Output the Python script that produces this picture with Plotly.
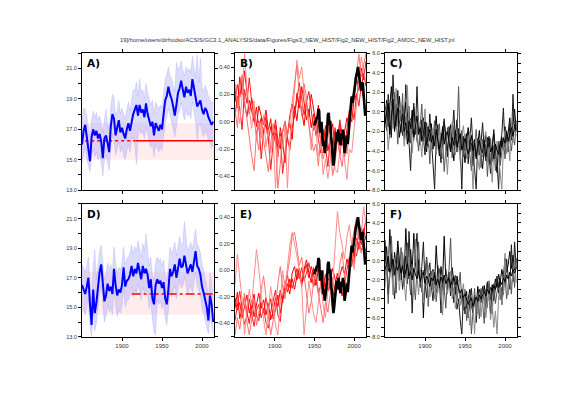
import plotly.graph_objects as go

# ---------------- data ----------------
YEARS2 = list(range(1850, 2015, 2))      # 83 values
YEARS3 = list(range(1850, 2016, 3))      # 56 values
OBS_YEARS = list(range(1950, 2015))      # 65 values

A_BLUE = [16.0, 16.9, 17.3, 16.4, 15.6, 14.9, 16.5, 17.0, 16.6, 16.9,
          16.4, 16.7, 16.2, 15.1, 16.4, 16.6, 16.1, 15.5, 17.2, 18.0,
          17.7, 16.6, 17.1, 17.6, 16.8, 17.1, 16.7, 16.4, 17.0, 17.4,
          16.9, 17.6, 18.0, 18.3, 18.6, 17.9, 18.6, 18.1, 18.3, 17.8,
          18.7, 18.0, 17.6, 17.2, 17.5, 16.6, 17.4, 17.2, 16.9, 17.3,
          17.0, 18.0, 18.9, 19.2, 19.8, 19.3, 19.0, 18.5, 17.9, 18.6,
          19.4, 19.7, 20.2, 19.6, 19.1, 19.8, 19.4, 19.6, 19.2, 20.3,
          19.6, 19.0, 18.5, 18.7, 18.9, 18.3, 18.0, 18.4, 18.2, 17.8,
          17.6, 17.3, 17.5]
A_UPPER = [17.6, 18.4, 18.3, 17.9, 17.0, 16.5, 17.6, 18.2, 17.8, 18.1,
           17.6, 17.9, 17.4, 16.8, 17.6, 18.3, 17.4, 17.0, 18.5, 19.3,
           19.1, 17.9, 18.2, 18.9, 18.0, 18.4, 18.0, 17.7, 18.3, 18.8,
           18.2, 19.0, 19.6, 19.5, 20.1, 19.2, 20.3, 19.4, 19.6, 19.0,
           20.0, 19.4, 18.9, 18.6, 18.9, 18.0, 18.8, 18.6, 18.3, 18.6,
           18.4, 19.4, 20.3, 20.6, 21.1, 20.5, 20.4, 19.9, 19.5, 21.4,
           20.9, 21.1, 21.5, 20.9, 20.5, 21.1, 20.8, 21.0, 20.7, 21.8,
           21.0, 20.4, 21.9, 20.1, 21.7, 19.8, 19.5, 19.9, 19.6, 19.2,
           19.0, 18.7, 18.9]
A_LOWER = [14.8, 15.5, 15.9, 15.0, 14.6, 14.2, 15.2, 15.7, 15.2, 15.5,
           15.0, 15.3, 14.8, 13.9, 15.0, 15.3, 14.8, 14.3, 15.8, 16.6,
           16.3, 15.3, 15.7, 16.2, 15.5, 15.8, 15.3, 15.0, 15.6, 16.0,
           15.5, 16.2, 16.5, 16.0, 14.7, 16.5, 17.1, 16.7, 16.9, 16.4,
           17.2, 16.6, 16.2, 15.8, 16.1, 15.2, 16.0, 15.8, 15.5, 15.9,
           15.6, 16.6, 17.4, 17.8, 18.4, 17.9, 17.5, 17.0, 16.5, 17.2,
           17.9, 18.2, 18.8, 18.1, 17.6, 18.3, 17.9, 18.1, 17.7, 18.8,
           18.1, 17.5, 16.3, 17.2, 17.4, 16.8, 16.5, 16.9, 16.7, 16.3,
           16.1, 15.8, 16.0]

D_BLUE = [16.5, 16.2, 15.9, 16.4, 17.0, 15.2, 13.8, 16.2, 14.6, 15.3,
          16.5, 17.4, 17.9, 16.3, 15.4, 15.8, 16.6, 16.1, 16.4, 15.9,
          17.6, 16.5, 15.8, 16.2, 16.0, 16.5, 17.7, 16.4, 16.8, 16.9,
          17.2, 17.8, 17.1, 17.6, 17.3, 18.0, 17.5, 16.9, 17.8, 17.3,
          17.6, 17.2, 16.3, 16.9, 15.6, 15.2, 16.5, 16.9, 16.6, 16.8,
          16.3, 16.7, 15.6, 15.2, 16.2, 17.6, 17.1, 17.4, 17.9, 17.0,
          17.6, 18.3, 17.7, 17.8, 18.5, 18.0, 17.3, 17.6, 17.9, 17.4,
          18.3, 18.8, 17.8, 17.6, 17.2, 16.4, 16.0, 15.4, 15.0, 14.1,
          15.8, 15.2, 14.0]
D_UPPER = [17.9, 17.6, 17.4, 17.8, 18.4, 16.7, 15.5, 17.8, 18.9, 16.9,
           18.0, 18.8, 19.2, 17.8, 16.9, 17.3, 18.0, 17.6, 17.9, 17.4,
           19.1, 18.0, 17.3, 17.7, 17.5, 18.0, 19.1, 17.9, 18.3, 18.4,
           18.7, 19.2, 18.6, 19.1, 18.8, 19.5, 19.0, 18.4, 19.3, 18.8,
           20.0, 18.7, 17.8, 18.4, 17.2, 16.8, 18.0, 18.4, 18.1, 18.3,
           17.8, 18.2, 17.2, 16.8, 17.7, 19.1, 18.6, 18.9, 19.4, 18.5,
           19.1, 19.8, 19.2, 19.3, 20.8, 19.5, 18.8, 19.1, 19.4, 18.9,
           19.8, 20.3, 19.3, 19.1, 18.7, 17.9, 17.5, 16.9, 16.5, 15.6,
           17.3, 16.7, 15.5]
D_LOWER = [15.1, 14.8, 14.5, 15.0, 15.6, 13.8, 13.0, 14.8, 13.4, 13.9,
           15.1, 16.0, 16.5, 14.9, 14.0, 14.4, 15.2, 14.7, 15.0, 14.5,
           16.2, 15.1, 14.4, 14.8, 14.6, 15.1, 16.3, 15.0, 15.4, 15.5,
           15.8, 16.4, 15.7, 16.2, 15.9, 16.6, 16.1, 15.5, 16.4, 15.9,
           16.2, 15.8, 14.9, 15.5, 14.2, 13.3, 13.1, 15.5, 15.2, 15.4,
           14.9, 15.3, 14.2, 13.8, 14.8, 16.2, 15.7, 16.0, 16.5, 15.6,
           16.2, 16.9, 16.3, 16.4, 17.1, 16.6, 15.9, 16.2, 16.5, 16.0,
           16.9, 17.4, 16.4, 16.2, 15.8, 15.0, 14.6, 14.0, 13.6, 13.2,
           14.4, 13.8, 13.2]

# reference (pink band low/high and red line)
A_BAND = [15.0, 17.4]
D_BAND = [14.5, 17.4]
A_REF_DOT_YEARS = [1854, 1917]
A_REF_SOLID_YEARS = [1917, 2014]
A_REF = [16.25, 16.25]
D_REF_YEARS = [1912, 2014]
D_REF = [15.9, 15.9]

OBS = [-1.4, -0.9, -1.1, -0.5, -0.7, 0.3, 0.1, -2.1, -1.5, -1.0,
       -2.4, -3.5, -3.0, -4.2, -3.6, -2.8, -1.9, -0.3, -0.1, -1.3,
       -0.9, -2.5, -3.2, -4.6, -5.5, -4.8, -3.8, -2.6, -2.1, -3.0,
       -1.8, -2.4, -2.9, -3.4, -2.2, -2.7, -1.8, -2.5, -4.2, -3.6,
       -3.1, -2.4, -3.3, -1.7, -1.2, -0.2, 0.6, 1.6, 0.9, 1.4,
       1.9, 2.6, 3.4, 3.9, 4.3, 4.6, 3.8, 3.2, 2.6, 2.2,
       3.0, 2.9, 1.8, 0.9, -0.4]

B_RED = [
    [1.0, 2.8, 1.5, 3.2, 0.8, -0.5, 1.2, 0.2, -1.0, 0.5,
     -1.8, -0.6, -2.2, -1.2, -3.0, -1.5, -2.6, -0.8, -2.9, -3.8,
     -2.0, -1.0, -2.5, -0.4, 0.8, -0.6, 1.9, 0.4, 2.6, 1.0,
     -0.8, 0.3, -1.6, -0.2, -2.4, -1.0, -3.1, -1.8, -2.7, -0.9,
     -2.2, -3.6, -1.9, -2.8, -1.2, -3.4, -2.0, -0.6, -1.5, 0.8,
     2.0, 1.2, 3.1, 2.4, 4.0, 2.6],
    [2.5, 0.4, 3.6, 1.8, 4.2, 2.0, -0.2, 1.4, 0.3, -1.5,
     0.6, -0.4, -1.3, 0.2, -1.9, -0.7, -3.4, -2.1, -4.6, -1.6,
     -3.0, -5.2, -2.3, -1.1, -2.8, 0.6, -0.9, 1.6, 0.2, -1.4,
     0.9, -0.5, 1.8, 0.4, -1.2, 0.7, -1.9, -3.3, -1.4, -4.0,
     -2.6, -1.2, -3.9, -2.2, -4.4, -2.5, -3.6, -1.8, 0.2, -1.0,
     1.5, 3.6, 2.2, 4.5, 3.3, 5.2],
    [-0.5, 1.6, 0.3, -1.8, 2.3, 0.9, 3.5, 1.0, -0.6, -2.4,
     -0.9, -4.8, -2.0, -0.5, -2.8, -5.9, -3.2, -1.4, -3.7, -2.2,
     -6.3, -4.1, -2.6, -3.9, -1.7, -0.4, 1.2, 3.0, 1.4, -0.3,
     1.0, 2.1, 0.2, -1.9, -0.6, -2.8, -4.2, -2.0, -3.5, -5.6,
     -2.9, -4.3, -1.6, -3.1, -0.8, -2.3, -4.6, -2.9, -1.1, 0.4,
     -0.8, 1.9, 0.6, 2.7, 1.3, 0.0],
    [3.0, 0.9, -1.2, 1.7, 6.0, 2.4, 0.5, -1.7, 1.1, -3.0,
     -1.1, -2.7, -0.3, -3.6, -1.8, -4.2, -2.4, -7.8, -4.0, -2.5,
     -3.8, -1.6, -7.8, -3.0, -0.8, 2.0, 5.3, 3.4, 4.6, 2.1,
     0.2, -1.3, -3.9, -0.9, -2.0, -4.5, -3.0, -6.4, -4.8, -6.8,
     -5.0, -3.2, -5.9, -6.2, -4.1, -2.4, -5.0, -6.9, -3.8, -4.2,
     -1.7, 0.9, 2.8, 5.6, 4.2, 3.0],
    [0.2, -1.6, 2.1, 3.8, 1.2, -0.9, -2.7, -4.5, -6.0, -2.2,
     -3.9, -1.0, -2.9, -4.4, -6.1, -3.3, -1.2, -2.7, -7.8, -5.4,
     -2.1, -0.9, -2.4, -1.0, 1.1, 3.0, 4.8, 1.9, -0.4, 2.9,
     1.5, -1.4, -2.6, -4.0, -3.3, -5.5, -2.6, -4.8, -3.9, -1.5,
     -3.8, -6.5, -5.2, -2.7, -4.4, -5.6, -3.1, -4.3, -2.0, 0.0,
     2.5, 4.2, 5.9, 3.6, 4.8, 6.0],
]
E_RED = [
    [-3.9, -5.2, -4.4, -6.0, -4.8, -3.6, -5.5, -4.2, -5.9, -4.6,
     -3.4, -5.0, -4.1, -5.7, -4.5, -6.2, -5.3, -3.9, -4.8, -3.1,
     -4.4, -2.6, -1.5, -2.8, -1.9, -3.0, -1.6, -0.8, -2.3, -1.2,
     -0.4, -1.8, -0.6, -1.5, -2.6, -0.9, -1.9, -2.8, -1.4, -3.2,
     -2.1, -0.8, -1.9, -3.0, -1.6, -0.6, -1.4, 0.2, -0.8, 1.1,
     0.4, 1.9, 2.6, 1.7, 3.4, 2.2],
    [-5.0, -3.3, -6.1, -4.9, -3.8, -5.4, -6.6, -4.7, -3.5, -5.8,
     -6.3, -4.4, -5.5, -3.9, -5.0, -4.0, -6.1, -5.2, -3.6, -5.5,
     -4.0, -3.2, -2.4, -3.5, -1.3, -0.6, -2.0, -1.1, -2.7, -0.9,
     0.1, -1.2, -2.3, -0.7, -1.6, -3.4, -2.6, -1.0, -3.6, -2.2,
     -3.1, -4.0, -2.5, -1.3, -2.8, -3.7, -2.0, -2.9, -1.1, 0.6,
     -0.3, 2.4, 1.2, 3.5, 2.8, 4.5],
    [-6.3, -4.6, -3.2, -5.1, -6.7, -5.8, -4.0, -5.6, -6.9, -5.2,
     -4.6, -6.0, -5.0, -6.5, -7.1, -5.4, -4.2, -3.1, -5.7, -6.4,
     -3.7, -2.1, -3.3, -1.9, -2.9, -2.0, -0.8, -1.9, -0.7, -2.1,
     -1.3, -0.2, -1.4, -2.7, -1.9, -0.5, -2.2, -3.6, -2.9, -1.8,
     -2.4, -3.3, -4.1, -2.2, -3.4, -1.9, -2.6, -0.9, 0.4, -0.6,
     1.3, 0.5, 2.0, 1.1, 1.8, 0.9],
    [-2.5, 0.7, -1.8, -4.0, -7.8, -5.6, -3.0, -4.7, -1.9, 1.2,
     -0.8, -3.5, -6.2, -7.8, -5.1, -2.7, -4.6, -6.8, -7.8, -4.5,
     -1.0, -2.9, -0.6, 1.6, 3.0, 1.9, 0.5, -1.0, -2.7, -7.8,
     -5.0, -2.1, -3.9, -5.6, -6.5, -4.2, -2.5, -4.6, -6.0, -3.1,
     -1.4, -2.6, 0.9, 5.2, 3.0, 1.4, 0.2, 2.5, 3.8, 1.6,
     -0.9, 1.8, 3.9, 2.7, 5.7, 3.9],
    [-7.8, -6.0, -7.2, -5.3, -3.4, -6.4, -7.8, -6.2, -4.0, -6.8,
     -5.5, -3.0, -1.6, -3.8, -6.0, -7.8, -6.3, -4.7, -2.4, -0.6,
     -2.8, -4.0, -1.3, 0.2, 2.6, 3.0, 1.4, -0.5, 0.4, -1.6,
     -3.6, -5.5, -4.3, -2.2, -0.9, -3.4, -5.0, -6.5, -4.3, -5.4,
     -3.5, -1.7, -4.0, -2.7, -0.4, 0.9, -1.8, -2.6, -0.3, 1.8,
     3.2, 4.6, 2.4, 0.8, 2.0, 0.3],
]
RED_COLORS = ["#ff0000", "#ff0000", "#ff1a1a", "#ff8c8c", "#ff7070"]

C_MEMBERS = [
    [-0.8, 1.2, -1.5, 0.4, 2.6, -0.6, -2.0, 0.8, -1.1, 1.6,
     -0.3, -2.4, -0.9, 1.0, -1.8, -3.1, -0.7, -2.2, 0.5, -1.6,
     -2.9, -1.0, -3.4, -1.9, -0.6, -2.8, -4.1, -1.5, -3.0, -1.2,
     -3.8, -2.1, -0.4, -2.9, -4.5, -2.2, -3.6, -1.0, -2.7, -4.0,
     -2.5, -1.3, -3.3, -5.0, -2.6, -0.8, -3.1, -4.4, -2.0, -3.7,
     -5.2, -3.0, -1.6, -4.1, -3.2, -5.5, -2.8, -4.6, -3.4, -1.9,
     -4.3, -5.8, -3.6, -2.4, -4.9, -3.1, -5.4, -3.8, -2.2, -4.5,
     -6.2, -3.3, -4.7, -2.6, -3.9, -1.5, -3.0, -2.1, -0.6, -2.7,
     -1.4, 0.3, -1.8],
    [0.5, -1.9, 1.8, -0.2, -2.6, 3.8, 0.1, -1.4, 2.2, -0.9,
     -2.1, 0.7, -1.3, 2.8, -0.5, -2.7, -6.0, -1.2, 0.9, -2.3,
     2.6, -1.7, -3.2, -0.8, -2.5, -4.4, -1.1, -3.6, -0.2, -2.8,
     -4.9, -7.9, -2.4, -1.3, -3.5, -5.2, -2.0, -0.7, -3.0, -4.6,
     -1.5, -3.9, -2.3, 0.2, -2.9, -4.1, -1.7, -3.4, -7.9, -2.5,
     -4.0, -2.2, -5.3, -3.0, -0.6, -3.8, -5.6, -7.9, -2.7, -4.4,
     -3.2, -1.1, -3.9, -5.0, -2.6, -4.7, -6.3, -3.5, -1.8, -4.0,
     -5.1, -7.9, -3.4, -2.3, 0.4, -3.6, -2.5, -4.1, -1.2, -2.9,
     1.8, -2.0, -0.9],
    [-1.6, 0.9, -0.4, -2.7, 1.1, -1.2, 2.0, -0.7, -3.3, 0.2,
     -1.0, 1.9, -2.8, -0.4, -1.9, 0.6, -3.2, -1.5, -2.9, -0.8,
     -2.2, -4.0, -1.4, 0.8, -2.6, -1.3, -3.7, -2.0, -5.3, -1.9,
     -2.8, -0.9, -3.9, -2.4, -1.2, -4.3, -2.9, -6.1, -3.3, -1.6,
     -3.6, -2.0, -4.7, -1.4, -3.0, -2.1, 2.6, -3.5, -1.9, -4.6,
     -2.3, -3.9, -2.7, -4.4, -6.0, -2.9, -3.7, -1.8, -4.5, -3.0,
     -5.7, -2.8, -4.2, -3.3, -6.6, -4.0, -2.7, -5.1, -3.4, -6.0,
     -4.6, -3.0, -5.5, -4.1, -2.6, -4.8, -1.9, -3.6, -2.4, -4.0,
     -2.3, -3.4, -1.2],
    [0.3, -0.8, -3.9, -1.3, 0.6, -1.7, -0.2, 2.4, -1.5, -0.6,
     0.8, -1.2, -3.5, -2.0, 2.7, -1.6, -0.8, -4.2, -2.1, -1.0,
     -3.1, -0.9, -2.4, -4.6, -1.8, 0.3, -2.9, -3.3, -1.6, -4.0,
     -1.7, -2.6, -4.4, -3.0, -1.9, -2.6, -4.8, -2.2, -3.9, -6.4,
     -3.4, -2.5, -1.1, -3.8, -4.4, -2.7, -3.2, -5.0, -2.6, -1.4,
     -3.5, -4.8, -3.1, -2.0, -4.1, -7.9, -3.9, -2.5, -4.8, -5.9,
     -2.9, -4.6, -3.0, -2.0, -5.2, -3.6, -4.4, -7.2, -3.9, -5.3,
     -3.0, -4.5, -6.0, -7.9, -3.6, -1.9, -4.3, -2.8, -5.0, -1.0,
     -3.1, -1.6, -2.4],
    [-1.2, -0.1, 0.9, -2.3, -0.7, 1.3, -1.8, -0.5, 0.4, -2.6,
     -1.4, -0.2, -2.0, -1.1, -3.3, -0.9, -1.7, 0.2, -2.6, -1.5,
     -0.4, -2.3, -1.6, -3.0, -2.2, -1.0, -3.4, -2.5, -1.8, -3.1,
     -2.4, -3.5, -1.8, -2.9, -3.8, -3.1, -1.5, -3.3, -2.4, -2.0,
     -3.0, -4.1, -2.6, -3.4, -1.9, -3.6, -2.8, -2.2, -3.9, -3.2,
     -2.7, -3.6, -4.3, -3.5, -2.4, -4.0, -3.2, -4.8, -3.5, -2.9,
     -3.8, -4.2, -2.9, -4.6, -3.7, -2.5, -4.1, -3.6, -4.8, -3.3,
     -3.9, -4.4, -3.0, -3.6, -2.7, -3.2, -2.0, -3.0, -2.3, -1.6,
     -2.5, -1.3, -2.0],
]
F_MEMBERS = [
    [-0.3, 1.5, -1.1, 3.3, 0.2, -1.6, 0.9, -0.8, 2.1, -0.5,
     -2.0, 0.6, -1.4, 3.4, -0.4, -1.9, 1.2, -1.1, 2.9, -0.2,
     -1.8, 0.1, -2.6, -1.0, -6.0, -1.7, 0.4, -2.2, -1.3, -3.0,
     -0.9, -2.4, 1.6, -1.5, -2.8, -0.6, -2.1, 2.6, -1.9, -3.1,
     -1.2, -2.9, -0.7, -2.2, -3.5, -1.6, -2.6, -4.0, -3.1, -4.6,
     -3.3, -5.0, -4.1, -3.0, -4.7, -5.5, -3.8, -4.9, -2.7, -4.2,
     -3.1, -4.5, -2.6, -3.8, -2.2, -3.4, -4.1, -2.5, -3.3, -1.9,
     -2.8, -1.4, -2.3, -0.9, -1.8, 0.3, -1.2, -0.4, 1.0, -0.8,
     0.6, -1.0, 0.2],
    [2.2, -0.6, -3.5, -1.0, 0.8, -2.2, -4.0, -0.3, 1.4, -1.9,
     -0.7, -3.0, -1.5, 0.5, -2.4, 3.1, -0.8, -5.5, -1.3, 0.8,
     2.9, -1.1, -2.8, -0.6, 2.0, -2.3, -3.9, -1.4, -0.2, -2.7,
     -4.2, -1.2, -3.3, -0.5, -2.0, -5.5, -1.8, -3.6, -0.9, -2.5,
     -1.7, -3.7, -2.2, -4.4, -2.7, -5.1, -4.0, -6.2, -7.7, -3.8,
     -5.6, -3.2, -6.0, -4.4, -2.9, -5.3, -3.6, -6.5, -4.1, -3.0,
     -4.4, -2.7, -3.8, -5.1, -2.3, -3.6, -5.6, -2.8, -4.2, -3.1,
     -1.6, -3.4, -2.0, -4.6, -1.1, -2.4, 0.2, -1.7, -3.0, 1.7,
     -2.2, 2.0, -0.8],
    [-1.5, 0.4, -4.5, -0.9, 2.6, -1.3, -0.2, -3.4, 0.6, -2.1,
     1.4, -0.5, -2.7, -1.0, 1.9, -1.6, -3.6, -0.4, -1.9, -4.1,
     -0.8, 2.0, -1.7, -3.3, -1.0, -2.2, 0.3, -4.8, -2.0, -1.1,
     -3.0, -1.8, -4.3, -2.5, -0.8, -3.6, -1.4, -2.8, -5.0, -2.0,
     -1.0, 2.4, -2.6, -3.7, -1.5, -4.2, -2.8, -1.2, -4.4, -5.2,
     -3.0, -6.3, -4.7, -3.4, -7.7, -4.8, -2.9, -5.7, -4.3, -6.1,
     -2.9, -4.3, -6.6, -3.0, -4.9, -2.1, -3.8, -5.6, -2.4, -4.5,
     -3.3, -2.2, -4.1, -2.8, -3.6, -1.5, -4.0, -2.6, -1.2, -3.5,
     -0.6, -2.8, 0.3],
    [-2.8, -0.1, 1.0, -1.8, -0.5, -3.6, 0.3, -1.5, -0.3, -3.1,
     -1.1, 0.9, -2.3, -4.2, -1.2, 0.4, -2.5, -1.0, -3.4, 2.3,
     -1.6, -3.6, -0.9, -2.0, -4.4, -1.5, -2.6, -0.5, -3.8, -2.3,
     -1.1, -4.0, -2.6, -3.4, -1.3, -2.9, -5.7, -2.4, -1.6, -3.5,
     -2.3, -1.1, -4.0, -2.8, -5.0, -3.3, -2.0, -4.7, -3.5, -2.4,
     -4.8, -3.7, -5.2, -6.8, -3.6, -4.5, -7.7, -4.0, -5.6, -3.3,
     -5.9, -4.0, -3.2, -6.0, -4.4, -3.5, -6.2, -4.6, -7.0, -5.3,
     -7.7, -3.8, -2.7, -4.6, -3.2, 0.8, -2.4, -3.6, -1.4, -2.6,
     -1.5, 0.1, -2.3],
    [-0.9, -0.4, 0.5, -1.2, -0.7, 0.2, -1.5, -0.6, -1.0, -0.2,
     -1.3, -0.5, -1.8, -0.9, -0.3, -1.6, -1.1, -2.0, -0.8, -1.4,
     -1.9, -1.0, -2.2, -1.5, -1.2, -2.4, -1.6, -2.0, -2.7, -1.8,
     -2.1, -1.4, -2.5, -1.9, -2.6, -1.7, -2.3, -1.5, -2.4, -2.0,
     -1.8, -2.6, -2.0, -1.6, -2.5, -2.2, -2.9, -3.4, -3.0, -3.8,
     -3.5, -4.0, -4.6, -4.2, -3.9, -4.8, -4.4, -3.8, -4.3, -3.6,
     -4.0, -3.5, -3.2, -3.7, -3.0, -3.4, -2.8, -3.2, -2.6, -3.0,
     -2.4, -2.8, -2.1, -2.5, -1.8, -2.2, -1.5, -1.9, -1.2, -1.6,
     -0.9, -1.3, -0.7],
]
GRAY_COLORS = ["#000000", "#1a1a1a", "#555555", "#8a8a8a", "#000000"]

X_TICKS = [1900, 1950, 2000]
TITLE = "19]/home/users/dirhodso/ACSIS/GC3.1_ANALYSIS/data/Figures/Figs3_NEW_HIST/Fig2_NEW_HIST/Fig2_AMOC_NEW_HIST.jnl"

# ---------------- figure ----------------
W, H = 545, 381      # page body has an 8 px margin
OFF = 8

def fx(p):
    return (p - OFF) / W

def fy(p):
    return 1 - (p - OFF) / H

fig = go.Figure()

def sc(x, y, xa, ya, **kw):
    fig.add_trace(go.Scatter(x=x, y=y, xaxis=xa, yaxis=ya, mode="lines",
                             showlegend=False, hoverinfo="skip", **kw))

# Panel A / D : temperature-like series
for xa, ya, up, lo, blue in [("x", "y", A_UPPER, A_LOWER, A_BLUE),
                              ("x4", "y5", D_UPPER, D_LOWER, D_BLUE)]:
    sc(YEARS2, lo, xa, ya, line=dict(width=0.6, color="rgba(150,150,255,0.45)"))
    sc(YEARS2, up, xa, ya, line=dict(width=0.6, color="rgba(150,150,255,0.45)"),
       fill="tonexty", fillcolor="rgba(150,150,255,0.33)")
    if xa == "x":
        sc(A_REF_DOT_YEARS, A_REF, xa, ya, line=dict(color="#ff0000", width=1.5, dash="dot"))
        sc(A_REF_SOLID_YEARS, A_REF, xa, ya, line=dict(color="#ff0000", width=1.6))
    else:
        sc(D_REF_YEARS, D_REF, xa, ya, line=dict(color="#ff0000", width=1.5, dash="dashdot"))
    sc(YEARS2, blue, xa, ya, line=dict(color="#0000ff", width=2))

# Panel B / E
for xa, yl, yr, members in [("x2", "y2", "y3", B_RED), ("x5", "y6", "y7", E_RED)]:
    sc([None], [None], xa, yl)
    for vals, col in zip(members, RED_COLORS):
        sc(YEARS3, vals, xa, yr, line=dict(color=col, width=1))
    sc(OBS_YEARS, OBS, xa, yr, line=dict(color="#000000", width=2.6))

# Panel C / F
for xa, ya, members in [("x3", "y4", C_MEMBERS), ("x6", "y8", F_MEMBERS)]:
    for vals, col in zip(members, GRAY_COLORS):
        sc(YEARS2, vals, xa, ya, line=dict(color=col, width=1))

# ---------------- layout ----------------
XD = [[fx(82), fx(214)], [fx(235), fx(366)], [fx(385), fx(517)]]
YD_TOP = [fy(190), fy(51)]
YD_BOT = [fy(339), fy(204)]
TICKFONT = dict(family="Liberation Sans", size=5.5, color="#333333")
LINE = dict(showline=True, linecolor="black", linewidth=1, showgrid=False,
            zeroline=False, ticks="outside", ticklen=3, tickcolor="black",
            tickwidth=1, tickfont=TICKFONT)

def xax(dom, anchor, labels):
    d = dict(LINE, domain=dom, anchor=anchor, range=[1850, 2015],
             tickvals=X_TICKS, mirror="ticks", showticklabels=labels)
    d["tickfont"] = dict(family="Liberation Sans", size=6, color="#333333")
    return d

def temp_y(dom, anchor):
    vals = list(range(13, 23))
    txt = [f"{v:.1f}" if v % 2 == 1 else "" for v in vals]
    return dict(LINE, domain=dom, anchor=anchor, range=[13, 22],
                tickvals=vals, ticktext=txt, mirror="ticks")

def frac_y(dom, anchor):
    vals = [round(-0.5 + 0.1 * i, 1) for i in range(11)]
    txt = [f"{v:.2f}" if abs(round(v * 10)) % 2 == 0 else "" for v in vals]
    return dict(LINE, domain=dom, anchor=anchor, range=[-0.5, 0.5],
                tickvals=vals, ticktext=txt, side="left")

def amoc_right(over, anchor):
    return dict(LINE, overlaying=over, anchor=anchor, side="right",
                range=[-8, 6], tickvals=list(range(-8, 7)), showticklabels=False)

def amoc_y(dom, anchor):
    vals = list(range(-8, 7))
    txt = [f"{v:.1f}" if v % 2 == 0 else "" for v in vals]
    return dict(LINE, domain=dom, anchor=anchor, range=[-8, 6],
                tickvals=vals, ticktext=txt, mirror="ticks")

fig.update_layout(
    width=W, height=H, autosize=False,
    margin=dict(l=0, r=0, t=0, b=0),
    paper_bgcolor="white", plot_bgcolor="rgba(0,0,0,0)",
    showlegend=False,
    xaxis=xax(XD[0], "y", False),
    xaxis2=xax(XD[1], "y2", False),
    xaxis3=xax(XD[2], "y4", False),
    xaxis4=xax(XD[0], "y5", True),
    xaxis5=xax(XD[1], "y6", True),
    xaxis6=xax(XD[2], "y8", True),
    yaxis=temp_y(YD_TOP, "x"),
    yaxis2=frac_y(YD_TOP, "x2"),
    yaxis3=amoc_right("y2", "x2"),
    yaxis4=amoc_y(YD_TOP, "x3"),
    yaxis5=temp_y(YD_BOT, "x4"),
    yaxis6=frac_y(YD_BOT, "x5"),
    yaxis7=amoc_right("y6", "x5"),
    yaxis8=amoc_y(YD_BOT, "x6"),
)

# pink reference bands
for yref, band, xref in [("y", A_BAND, "x"), ("y5", D_BAND, "x4")]:
    fig.add_shape(type="rect", xref=f"{xref} domain", yref=yref, x0=0, x1=1,
                  y0=band[0], y1=band[1], fillcolor="rgba(255,0,0,0.07)",
                  line=dict(width=0), layer="below")

# panel labels
for lab, xr, yr in [("A)", "x", "y"), ("B)", "x2", "y2"), ("C)", "x3", "y4"),
                    ("D)", "x4", "y5"), ("E)", "x5", "y6"), ("F)", "x6", "y8")]:
    fig.add_annotation(text=f"<b>{lab}</b>", xref=f"{xr} domain", yref=f"{yr} domain",
                       x=0.025, y=0.985, xanchor="left", yanchor="top", showarrow=False,
                       font=dict(family="DejaVu Sans", size=10.5, color="black"))

fig.add_annotation(text=TITLE, xref="paper", yref="paper", x=fx(287), y=fy(37),
                   xanchor="center", yanchor="middle", showarrow=False,
                   font=dict(family="Liberation Sans", size=5.8, color="#333333"))

fig.write_html("out.html")
